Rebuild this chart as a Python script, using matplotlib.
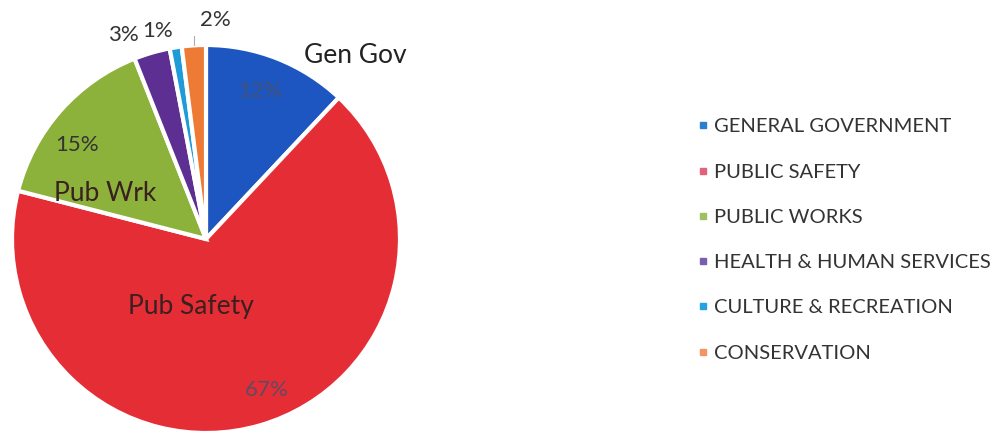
import numpy as np
import matplotlib.pyplot as plt
from matplotlib.lines import Line2D

plt.rcParams['font.family'] = ['Lato', 'DejaVu Sans']

# spending by function, share of total
categories = ['GENERAL GOVERNMENT', 'PUBLIC SAFETY', 'PUBLIC WORKS',
              'HEALTH & HUMAN SERVICES', 'CULTURE & RECREATION', 'CONSERVATION']
short_names = ['Gen Gov', 'Pub Safety', 'Pub Wrk', '', '', '']
shares = [12, 67, 15, 3, 1, 2]

wedge_colors = ['#1d56c0', '#e52d36', '#8cb23c', '#5e2f93', '#1f9bd8', '#ee7b35']
legend_colors = ['#2a7fcf', '#e0637c', '#9cc264', '#7a5eae', '#27a2e0', '#f29465']

# (radius, angle) where each percentage / name label sits
pct_pos = [(0.81, 70), (0.84, -68), (0.82, 144), (1.135, 112), (1.10, 103), None]
name_pos = [(1.22, 51), (0.355, -103), (0.57, 155.5), None, None, None]

fig = plt.figure(figsize=(10.06, 4.34), dpi=100)
ax = fig.add_axes([12 / 1006, 1 / 434, 388 / 1006, 388 / 434])

wedges, _ = ax.pie(shares, colors=wedge_colors, startangle=90, counterclock=False,
                   wedgeprops=dict(edgecolor='white', linewidth=3))
ax.set_xlim(-1, 1)
ax.set_ylim(-1, 1)
ax.set_aspect('equal')
ax.axis('off')


def polar(r, deg):
    a = np.deg2rad(deg)
    return r * np.cos(a), r * np.sin(a)


for i, val in enumerate(shares):
    if pct_pos[i] is not None:
        x, y = polar(*pct_pos[i])
        col = '#4a4f6a' if i in (0, 1) else '#333333'
        ax.text(x, y, f'{val}%', ha='center', va='center', fontsize=16,
                color=col, alpha=0.85 if i in (0, 1) else 1)
    if name_pos[i] is not None:
        x, y = polar(*name_pos[i])
        ax.text(x, y, short_names[i], ha='center', va='center', fontsize=19,
                color='#222222' if i == 0 else '#3a2020')

# leader line for the conservation slice
w = wedges[5]
mid = (w.theta1 + w.theta2) / 2
ax.annotate(f'{shares[5]}%', xy=polar(1.0, mid), xytext=polar(1.13, 87.6),
            ha='center', va='center', fontsize=16, color='#333333',
            arrowprops=dict(arrowstyle='-', color='#aaaaaa', lw=0.8,
                            shrinkA=12, shrinkB=0,
                            connectionstyle='angle,angleA=0,angleB=90,rad=0'),
            annotation_clip=False)

handles = [Line2D([], [], marker='s', linestyle='none', markersize=5,
                  markerfacecolor=c, markeredgecolor=c) for c in legend_colors]
fig.legend(handles, categories, loc='center left',
           bbox_to_anchor=(677 / 1006, 1 - 240 / 434), frameon=False,
           fontsize=14.5, labelspacing=1.4, handletextpad=0.15,
           handlelength=0.8, labelcolor='#333333')

fig.savefig('out.png', dpi=100)
